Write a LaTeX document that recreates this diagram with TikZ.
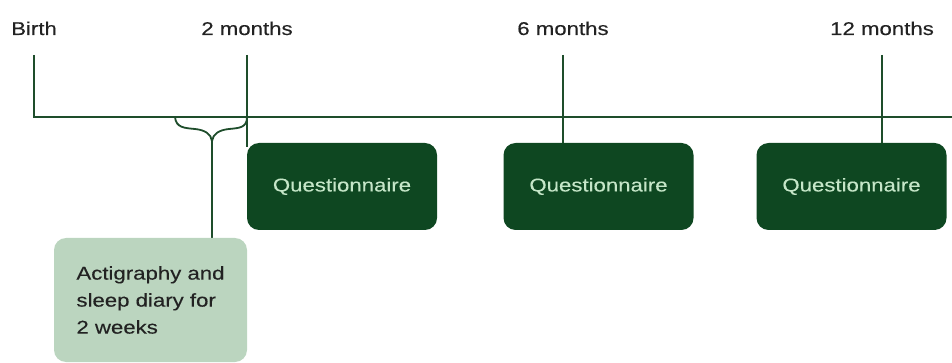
\documentclass[tikz,border=0pt]{standalone}
\usepackage{fontspec}
\usetikzlibrary{backgrounds}
\setmainfont[FakeStretch=1.2,FakeBold=0.25]{Liberation Sans}
\definecolor{linegreen}{HTML}{1E4D2B}
\definecolor{darkbox}{HTML}{0E4721}
\definecolor{darktext}{HTML}{C5E6C8}
\definecolor{lightbox}{HTML}{BBD5BF}
\definecolor{labeltext}{HTML}{222222}
\begin{document}
\begin{tikzpicture}[x=1pt,y=-1pt,
  every node/.style={font=\fontsize{18.5}{27}\selectfont},
  timelabel/.style={text=labeltext, inner sep=0pt, anchor=base},
  qbox/.style={fill=darkbox, text=darktext, rounded corners=12pt,
    minimum width=190pt, minimum height=87pt, inner sep=0pt},
  actbox/.style={fill=lightbox, text=labeltext, rounded corners=12pt,
    minimum width=193pt, minimum height=124pt, align=left, inner sep=0pt},
  tl/.style={draw=linegreen, line width=1.8pt}]
\useasboundingbox (0,0) rectangle (952,363);
% labels
\node[timelabel, anchor=base west] (lb) at (11,35) {Birth};
\node[timelabel] (l2) at (247,35) {2 months};
\node[timelabel] (l6) at (563,35) {6 months};
\node[timelabel] (l12) at (882,35) {12 months};
% tick tops
\coordinate (t0) at (34,55);
\coordinate (t2) at (247,55);
\coordinate (t6) at (563,55);
\coordinate (t12) at (882,55);
\coordinate (lineend) at (952,117);
\coordinate (tip) at (212,141);
% boxes
\node[qbox] (q2) at (342,186.5) {Questionnaire};
\node[qbox] (q6) at (598.5,186.5) {Questionnaire};
\node[qbox] (q12) at (851.5,186.5) {Questionnaire};
\node[actbox] (act) at (150.5,300) {Actigraphy and\\sleep diary for\\2 weeks};
% lines
\begin{pgfonlayer}{background}
\draw[tl] (t0) |- (lineend);
\draw[tl] (t2) -- ([yshift=-4pt]t2 |- q2.north);
\draw[tl] (t6) -- ([yshift=-4pt]t6 |- q6.north);
\draw[tl] (t12) -- ([yshift=-4pt]t12 |- q12.north);
% brace
\draw[tl] (175,117) .. controls (176,128) and (185,128) .. (195,129)
  .. controls (205,130) and (211,134) .. (tip)
  .. controls (213,134) and (219,130) .. (229,129)
  .. controls (239,128) and (247,128) .. (247,117);
\draw[tl] (tip) -- ([yshift=-4pt]tip |- act.north);
\end{pgfonlayer}
\end{tikzpicture}
\end{document}
